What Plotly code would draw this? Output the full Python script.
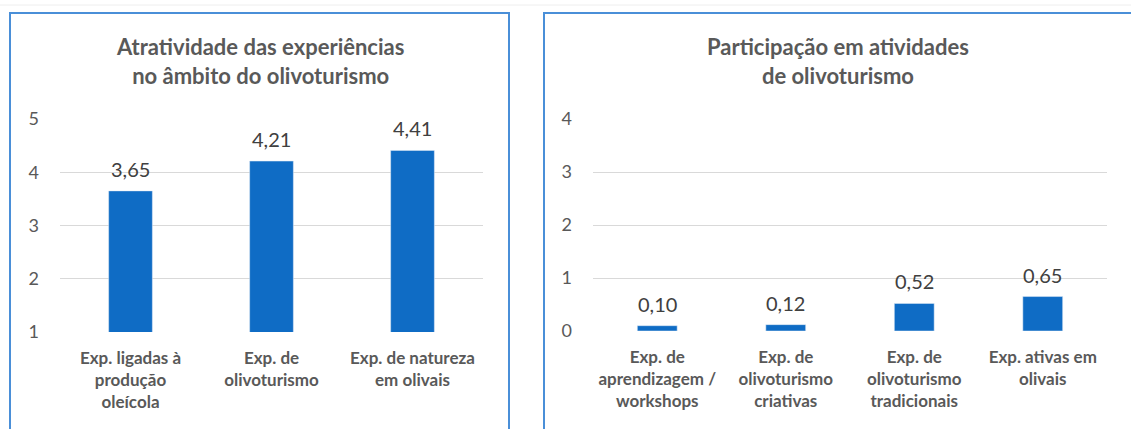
import plotly.graph_objects as go

W, H = 1131, 429

# ---- data ----
left_title = "Atratividade das experiências<br>no âmbito do olivoturismo"
left_categories = ["Exp. ligadas à<br>produção<br>oleícola", "Exp. de<br>olivoturismo", "Exp. de natureza<br>em olivais"]
left_values = [3.65, 4.21, 4.41]

right_title = "Participação em atividades<br>de olivoturismo"
right_categories = ["Exp. de<br>aprendizagem /<br>workshops", "Exp. de<br>olivoturismo<br>criativas",
                    "Exp. de<br>olivoturismo<br>tradicionais", "Exp. ativas em<br>olivais"]
right_values = [0.10, 0.12, 0.52, 0.65]

FONT = "Lato"
GREY = "#595959"
LABEL = "#404040"
BAR = "#0F6CC5"
GRID = "#D9D9D9"
BORDER = "#4A8FD8"


def px_x(p):
    return p / W


def px_y(p):
    return 1 - p / H


def fmt(v):
    return f"{v:.2f}".replace(".", ",")


fig = go.Figure()
fig.add_trace(go.Bar(x=left_categories, y=left_values, marker_color=BAR,
                     xaxis="x", yaxis="y", hoverinfo="skip"))
fig.add_trace(go.Bar(x=right_categories, y=right_values, marker_color=BAR,
                     xaxis="x2", yaxis="y2", hoverinfo="skip"))

tickfont_cat = dict(family=FONT, size=17, color=GREY, weight="bold")
tickfont_num = dict(family=FONT, size=18, color=GREY)

annotations = []
for c, v in zip(left_categories, left_values):
    annotations.append(dict(x=c, y=v, xref="x", yref="y", text=fmt(v), showarrow=False,
                            yanchor="bottom", yshift=8,
                            font=dict(family=FONT, size=20, color=LABEL)))
for c, v in zip(right_categories, right_values):
    annotations.append(dict(x=c, y=v, xref="x2", yref="y2", text=fmt(v), showarrow=False,
                            yanchor="bottom", yshift=8,
                            font=dict(family=FONT, size=20, color=LABEL)))

title_font = dict(family=FONT, size=22, color=GREY, weight="bold")
annotations.append(dict(x=px_x(259.5), y=px_y(61), xref="paper", yref="paper", text=left_title,
                        showarrow=False, xanchor="center", yanchor="middle", font=title_font))
annotations.append(dict(x=px_x(838), y=px_y(61), xref="paper", yref="paper", text=right_title,
                        showarrow=False, xanchor="center", yanchor="middle", font=title_font))


def seg(x0, y0, x1, y1, color=BORDER, width=2):
    return dict(type="line", xref="paper", yref="paper",
                x0=px_x(x0), y0=px_y(y0), x1=px_x(x1), y1=px_y(y1),
                line=dict(color=color, width=width))


shapes = [
    seg(0, 5, W, 5, color="#EEEEEE", width=1),
    # left panel border (left, top, right)
    seg(10, 12, 10, H),
    seg(9, 13, 509, 13),
    seg(509, 12, 509, H),
    # right panel border (left, top)
    seg(544, 12, 544, H),
    seg(543, 13, W, 13),
]

fig.update_layout(
    width=W, height=H,
    margin=dict(l=0, r=0, t=0, b=0, autoexpand=False),
    paper_bgcolor="white", plot_bgcolor="white",
    showlegend=False,
    bargap=0.69,
    separators=",.",
    xaxis=dict(domain=[px_x(60), px_x(483)], tickfont=tickfont_cat, showline=False,
               ticks="", ticklabelstandoff=14, fixedrange=True, automargin=False),
    yaxis=dict(domain=[px_y(332), px_y(119)], range=[1, 5], dtick=1, tickfont=tickfont_num,
               showgrid=True, gridcolor=GRID, gridwidth=1, zeroline=False, showline=False,
               ticks="", ticklabelstandoff=20, fixedrange=True, automargin=False),
    xaxis2=dict(domain=[px_x(593), px_x(1107)], tickfont=tickfont_cat, showline=False,
                ticks="", ticklabelstandoff=14, anchor="y2", fixedrange=True, automargin=False),
    yaxis2=dict(domain=[px_y(331), px_y(119)], range=[0, 4], dtick=1, tickfont=tickfont_num,
                showgrid=True, gridcolor=GRID, gridwidth=1, zeroline=False, showline=False,
                ticks="", ticklabelstandoff=20, anchor="x2", fixedrange=True, automargin=False),
    annotations=annotations,
    shapes=shapes,
)

fig.write_html(
    "out.html",
    config={"displayModeBar": False},
    post_script="document.body.style.margin='0';document.body.style.overflow='hidden';",
)
